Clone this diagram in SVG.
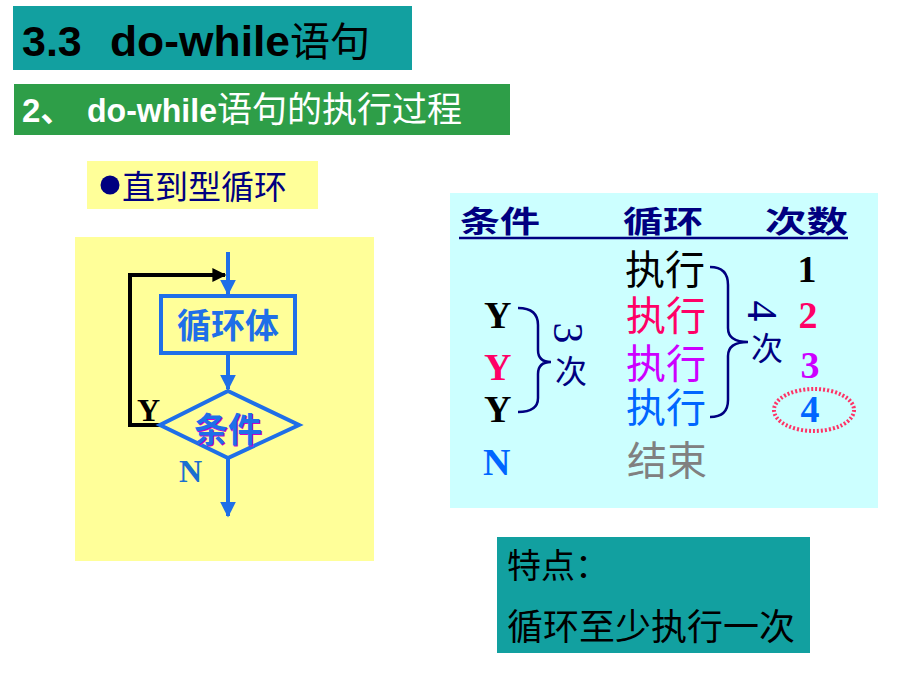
<svg xmlns="http://www.w3.org/2000/svg" width="920" height="690" viewBox="0 0 920 690">
<defs>
<style>
.cjk{font-family:"Liberation Sans","Noto Sans CJK SC",sans-serif}
.ser{font-family:"Liberation Serif","Noto Sans CJK SC",serif;font-weight:bold}
.blue{fill:#1F6FE8}
.fl{stroke:#1F6FE8;stroke-width:4;fill:none}
.br{stroke:#000080;stroke-width:2.5;fill:none}
</style>
<marker id="ab" viewBox="0 0 10 10" refX="9" refY="5" markerWidth="4" markerHeight="4" orient="auto"><path d="M0,0 L10,5 L0,10 z" fill="#1F6FE8"/></marker>
<marker id="ak" viewBox="0 0 10 10" refX="9" refY="5" markerWidth="3.5" markerHeight="3.5" orient="auto"><path d="M0,0 L10,5 L0,10 z" fill="#000"/></marker>
</defs>
<rect width="920" height="690" fill="#fff"/>

<g id="title">
<rect x="13" y="6" width="399" height="64" fill="#12A0A0"/>
<text x="22" y="56" class="cjk" font-size="43" font-weight="bold" fill="#000">3.3</text>
<text x="110" y="56" class="cjk" font-size="43" font-weight="bold" fill="#000" textLength="180" lengthAdjust="spacingAndGlyphs">do-while</text>
<text x="290" y="56" class="cjk" font-size="40" fill="#000" textLength="80" lengthAdjust="spacingAndGlyphs">语句</text>
</g>
<g id="subtitle">
<rect x="14" y="84" width="496" height="51" fill="#2E9E48"/>
<text x="22" y="122" class="cjk" font-size="33" font-weight="bold" fill="#fff">2、</text>
<text x="87" y="122" class="cjk" font-size="33" font-weight="bold" fill="#fff" textLength="130" lengthAdjust="spacingAndGlyphs">do-while</text>
<text x="217" y="122" class="cjk" font-size="35" fill="#fff" textLength="245" lengthAdjust="spacingAndGlyphs">语句的执行过程</text>
</g>
<g id="label">
<rect x="87" y="161" width="231" height="48" fill="#FFFF99"/>
<circle cx="110" cy="185" r="9.5" fill="#000080"/>
<text x="122" y="199" class="cjk" font-size="33" fill="#000080">直到型循环</text>
</g>

<g id="flowchart">
<rect x="75" y="237" width="299" height="324" fill="#FFFF99"/>
</g>
<g id="connectors">
<line x1="228" y1="252" x2="228" y2="294" class="fl" marker-end="url(#ab)"/>
<polyline points="160,425 130,425 130,275 225,275" fill="none" stroke="#000" stroke-width="4" marker-end="url(#ak)"/>
<line x1="228" y1="353" x2="228" y2="389" class="fl" marker-end="url(#ab)"/>
<line x1="228" y1="458" x2="228" y2="516" class="fl" marker-end="url(#ab)"/>
</g>
<g id="loopbody">
<rect x="161" y="296" width="134" height="57" class="fl"/>
<text x="228" y="338" class="cjk blue" font-size="34" font-weight="bold" text-anchor="middle">循环体</text>
</g>
<g id="cond">
<polygon points="228,391 299,425 228,458 160,425" class="fl"/>
<text x="229" y="443" class="cjk" font-size="34" font-weight="bold" text-anchor="middle" fill="#CC00CC">条件</text>
<text x="228" y="442" class="cjk blue" font-size="34" font-weight="bold" text-anchor="middle">条件</text>
</g>
<text x="137" y="421" class="ser" font-size="32" fill="#000">Y</text>
<text x="179" y="482" class="ser" font-size="32" fill="#1A6FD0">N</text>

<g id="table">
<rect x="450" y="193" width="428" height="315" fill="#CCFFFF"/>
<text x="460" y="232" class="cjk" font-size="30" font-weight="bold" fill="#000080" textLength="80" lengthAdjust="spacingAndGlyphs">条件</text>
<text x="623" y="232" class="cjk" font-size="30" font-weight="bold" fill="#000080" textLength="80" lengthAdjust="spacingAndGlyphs">循环</text>
<text x="765" y="232" class="cjk" font-size="30" font-weight="bold" fill="#000080" textLength="83" lengthAdjust="spacingAndGlyphs">次数</text>
<line x1="459" y1="238" x2="848" y2="238" stroke="#000080" stroke-width="2.5"/>

<text x="625" y="284" class="cjk" font-size="40" fill="#000">执行</text>
<text x="626" y="330" class="cjk" font-size="40" fill="#FF0066">执行</text>
<text x="626" y="378" class="cjk" font-size="40" fill="#CC00FF">执行</text>
<text x="626" y="422" class="cjk" font-size="40" fill="#0066FF">执行</text>
<text x="627" y="475" class="cjk" font-size="40" fill="#808080">结束</text>

<text x="484" y="328" class="ser" font-size="38" fill="#000">Y</text>
<text x="484" y="380" class="ser" font-size="38" fill="#FF0066">Y</text>
<text x="484" y="422" class="ser" font-size="38" fill="#000">Y</text>
<text x="483" y="475" class="ser" font-size="38" fill="#0066FF">N</text>

<text x="807" y="282" class="ser" font-size="38" fill="#000" text-anchor="middle">1</text>
<text x="808" y="328" class="ser" font-size="38" fill="#FF0066" text-anchor="middle">2</text>
<text x="810" y="378" class="ser" font-size="38" fill="#CC00FF" text-anchor="middle">3</text>
<text x="810" y="422" class="ser" font-size="38" fill="#0066FF" text-anchor="middle">4</text>
<ellipse cx="814" cy="410" rx="40" ry="21" fill="none" stroke="#FF3366" stroke-width="4" stroke-dasharray="2 2"/>

<path class="br" d="M518,308 Q538,308 538,325 L538,350 Q538,362 551,362 Q538,362 538,374 L538,398 Q538,412 518,412"/>
<path class="br" d="M710,267 Q728,267 728,285 L728,328 Q728,342 748,342 Q728,342 728,356 L728,400 Q728,417 710,417"/>
<text transform="translate(568,333) rotate(90)" font-family="Liberation Serif,serif" font-size="42" fill="#000080" text-anchor="middle" dy="0.33em">3</text>
<text x="571" y="383" class="cjk" font-size="32" fill="#000080" text-anchor="middle">次</text>
<text transform="translate(762,311) rotate(90)" font-family="Liberation Serif,serif" font-size="42" fill="#000080" text-anchor="middle" dy="0.33em">4</text>
<text x="767" y="360" class="cjk" font-size="32" fill="#000080" text-anchor="middle">次</text>
</g>

<g id="feature">
<rect x="497" y="537" width="313" height="116" fill="#12A0A0"/>
<text x="507" y="578" class="cjk" font-size="34" fill="#000">特点：</text>
<text x="507" y="640" class="cjk" font-size="36" fill="#000">循环至少执行一次</text>
</g>
</svg>
